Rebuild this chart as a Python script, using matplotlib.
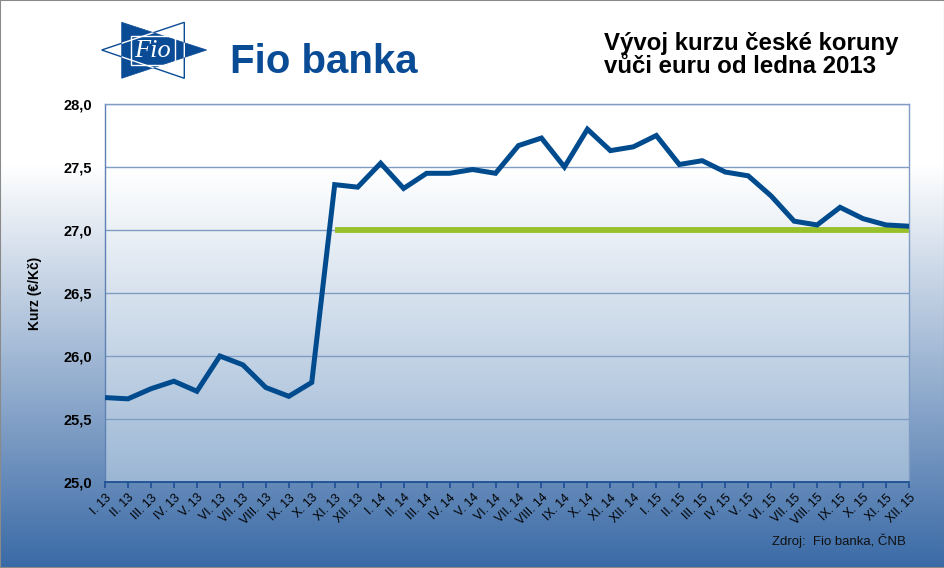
import numpy as np
import matplotlib
matplotlib.use("Agg")
import matplotlib.pyplot as plt
from matplotlib.patches import Polygon, Rectangle

# ---- data ----
months = ["I", "II", "III", "IV", "V", "VI", "VII", "VIII", "IX", "X", "XI", "XII"]
years = ["13", "14", "15"]
labels = [f"{m}. {y}" for y in years for m in months]
kurz = [25.67, 25.66, 25.74, 25.80, 25.72, 26.00, 25.93, 25.75, 25.68, 25.79,
        27.36, 27.34, 27.53, 27.33, 27.45, 27.45, 27.48, 27.45, 27.67, 27.73,
        27.50, 27.80, 27.63, 27.66, 27.75, 27.52, 27.55, 27.46, 27.43, 27.27,
        27.07, 27.04, 27.18, 27.09, 27.04, 27.03]
floor_start = 10
floor_value = 27.0
yticks = [25.0, 25.5, 26.0, 26.5, 27.0, 27.5, 28.0]

W, H = 945, 568
fig = plt.figure(figsize=(W / 100, H / 100), dpi=100)

# ---- figure background gradient ----
bg = fig.add_axes([0, 0, 1, 1], zorder=-10)
yy = np.linspace(0, H, 400)  # pixel rows from top
top_c = np.array([1.0, 1.0, 1.0])
bot_c = np.array([58, 106, 166]) / 255
t = np.clip((yy - 165) / (H - 165), 0, 1)[:, None]
grad = top_c * (1 - t) + bot_c * t
img = np.repeat(grad[:, None, :], 2, axis=1)
bg.imshow(img, extent=[0, 1, 0, 1], aspect="auto", origin="upper")
bg.set_xlim(0, 1)
bg.set_ylim(0, 1)
bg.axis("off")
bg.add_patch(Rectangle((0, 0), 1, 1, transform=bg.transAxes, fill=False,
                       edgecolor="#8a8a8a", lw=1.5, zorder=5))

# ---- plot axes ----
ax = fig.add_axes([105 / W, 1 - 482 / H, (909 - 105) / W, (482 - 104) / H])
n = len(kurz)
x = np.arange(n)
ax.set_xlim(0, n - 1)
ax.set_ylim(25, 28)

# plot area gradient
vals = np.linspace(25, 28, 300)
tp = np.clip((27.48 - vals) / (27.48 - 25.0), 0, 1)[:, None]
pc_bot = np.array([155, 182, 212]) / 255
pgrad = np.array([1, 1, 1]) * (1 - tp) + pc_bot * tp
pimg = np.repeat(pgrad[:, None, :], 2, axis=1)
ax.imshow(pimg, extent=[0, n - 1, 25, 28], aspect="auto", origin="lower", zorder=0)

for v in yticks[1:]:
    ax.axhline(v, color="#7f9dc4", lw=1.0, zorder=1)

ax.plot(x[floor_start:], [floor_value] * (n - floor_start), color="#98c02b",
        lw=4.2, solid_capstyle="butt", zorder=2)
ax.plot(x, kurz, color="#004a8e", lw=3.6, solid_joinstyle="miter", zorder=3)

for s in ["top", "right"]:
    ax.spines[s].set_color("#7f9dc4")
    ax.spines[s].set_linewidth(1.0)
ax.spines["left"].set_color("#5d82b3")
ax.spines["left"].set_linewidth(1.0)
ax.spines["bottom"].set_color("#1d4f93")
ax.spines["bottom"].set_linewidth(1.3)

ax.set_yticks(yticks)
ax.set_yticklabels([f"{v:.1f}".replace(".", ",") for v in yticks],
                   fontfamily="Liberation Sans", fontweight="bold", fontsize=10.5)
ax.tick_params(axis="y", length=0, pad=9.5)
ax.set_xticks(x)
ax.set_xticklabels(labels, rotation=45, ha="right", rotation_mode="anchor",
                   fontfamily="Liberation Sans", fontsize=8.8)
ax.tick_params(axis="x", length=4, width=1.2, color="#1d4f93", pad=3)
ax.set_ylabel("Kurz (€/Kč)", fontfamily="Liberation Sans", fontweight="bold",
              fontsize=10, labelpad=15)

# ---- overlay for logo / texts ----
ov = fig.add_axes([0, 0, 1, 1], zorder=10)
ov.set_xlim(0, W)
ov.set_ylim(H, 0)
ov.axis("off")

blue = "#0a4b96"
left_tri = Polygon([(184.3, 22.3), (184.3, 78.3), (101.7, 50)], closed=True,
                   fill=False, edgecolor=blue, lw=1.0)
ov.add_patch(left_tri)
right_tri = Polygon([(121.7, 22.3), (121.7, 78.3), (206.7, 50)], closed=True,
                    facecolor=blue, edgecolor=blue, lw=0.5)
ov.add_patch(right_tri)
inner = Polygon([(184.3, 22.3), (184.3, 78.3), (101.7, 50)], closed=True,
                fill=False, edgecolor="white", lw=1.0)
ov.add_patch(inner)
inner.set_clip_path(right_tri)
ov.add_patch(Rectangle((131, 35.7), 44, 29.3, fill=False, edgecolor="white", lw=1.0))
ov.text(153, 51, "Fio", color="white", fontfamily="Liberation Serif",
        fontstyle="italic", fontsize=19, ha="center", va="center")
ov.text(230, 73, "Fio banka", color=blue, fontfamily="Liberation Sans",
        fontweight="bold", fontsize=29, ha="left", va="baseline")

ov.text(604, 50, "Vývoj kurzu české koruny", fontfamily="Liberation Sans",
        fontweight="bold", fontsize=17.3, ha="left", va="baseline", color="black")
ov.text(604, 73, "vůči euru od ledna 2013", fontfamily="Liberation Sans",
        fontweight="bold", fontsize=17.3, ha="left", va="baseline", color="black")

ov.text(906, 545, "Zdroj:  Fio banka, ČNB", fontfamily="Liberation Sans",
        fontsize=9.5, ha="right", va="baseline", color="#111111")

fig.savefig("out.png", dpi=100)
